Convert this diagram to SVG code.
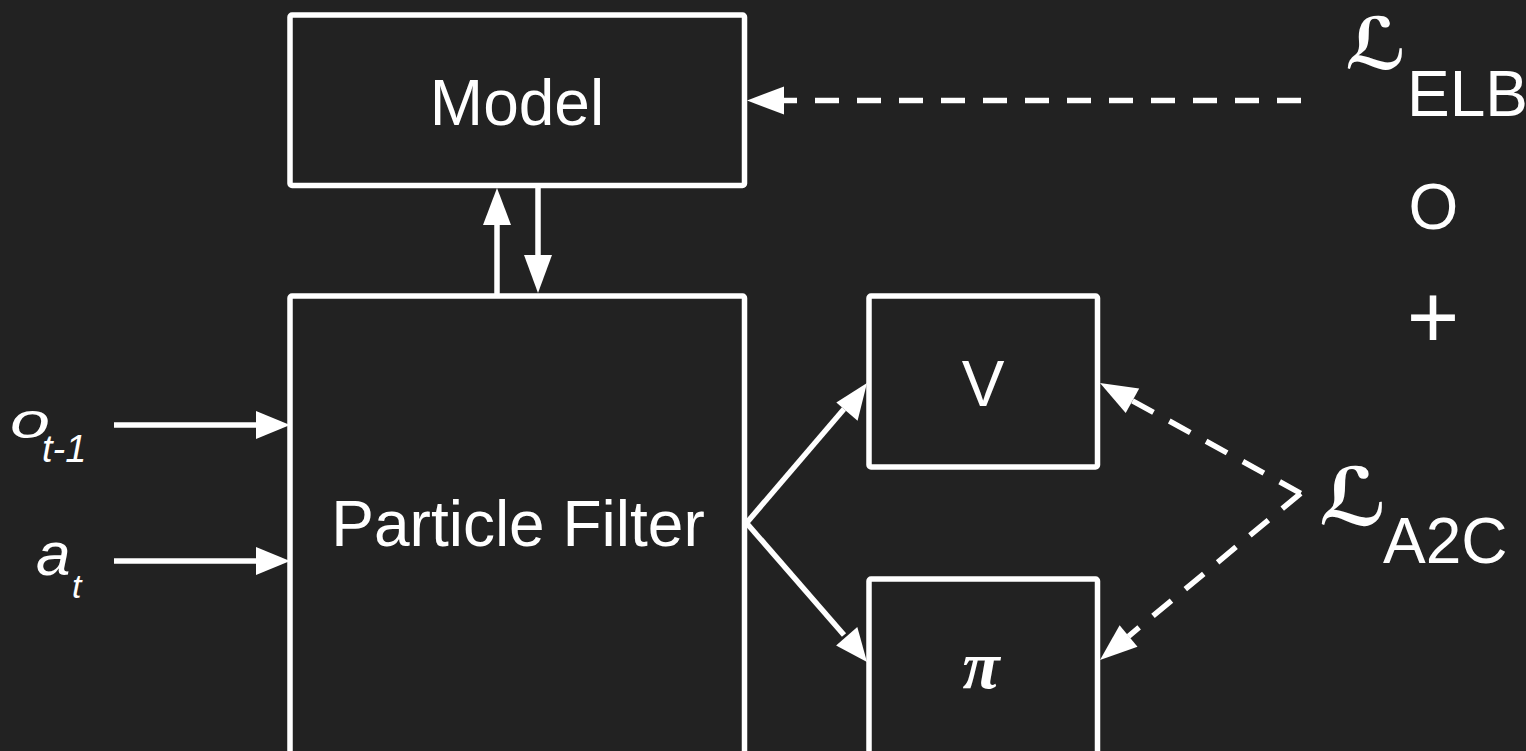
<svg xmlns="http://www.w3.org/2000/svg" width="1526" height="751" viewBox="0 0 1526 751">
<style>
.box{fill:#222222;stroke:#ffffff;stroke-width:5.5;stroke-linejoin:round}
.ln{stroke:#ffffff;stroke-width:5.5;fill:none}
.dash{stroke:#ffffff;stroke-width:5.5;fill:none;stroke-dasharray:24 18}
.head{fill:#ffffff}
.lbl{font-family:"Liberation Sans",Arial,sans-serif;fill:#ffffff}
.scr{font-family:"DejaVu Sans",sans-serif;fill:#ffffff;font-weight:bold}
</style>
<rect width="1526" height="751" fill="#222222"/>
<g id="model"><rect class="box" x="290" y="15" width="454.5" height="170.5" rx="2"/><text class="lbl" x="517" y="125" font-size="64" text-anchor="middle">Model</text></g>
<g id="particle-filter"><rect class="box" x="290" y="296" width="454.5" height="500" rx="2"/><text class="lbl" x="518" y="546" font-size="64" text-anchor="middle">Particle Filter</text></g>
<g id="value"><rect class="box" x="869" y="296" width="228.5" height="171" rx="2"/><text class="lbl" x="983" y="406" font-size="64" text-anchor="middle">V</text></g>
<g id="policy"><rect class="box" x="869" y="579" width="228.5" height="220" rx="2"/><text x="981" y="688" font-size="68" text-anchor="middle" font-family="'Liberation Serif','Times New Roman',serif" font-weight="bold" font-style="italic" fill="#ffffff">π</text></g>
<g id="obs-label"><text class="lbl" x="10" y="438" font-size="50" font-style="italic" textLength="40" lengthAdjust="spacingAndGlyphs">o</text><text class="lbl" x="42" y="462" font-size="38" font-style="italic">t-1</text></g>
<g id="act-label"><text class="lbl" x="36" y="575" font-size="62" font-style="italic">a</text><text class="lbl" x="72" y="598" font-size="34" font-style="italic">t</text></g>
<g id="loss-elbo"><text class="scr" x="1345" y="69" font-size="72">ℒ</text><text class="lbl" x="1407" y="116" font-size="64">ELB</text></g>
<g id="o-text"><text class="lbl" x="1433.5" y="229" font-size="64" text-anchor="middle">O</text></g>
<g id="plus-text"><text class="lbl" x="1433" y="348" font-size="90" text-anchor="middle">+</text></g>
<g id="loss-a2c"><text class="scr" x="1319" y="525" font-size="80">ℒ</text><text class="lbl" x="1383" y="563" font-size="64">A2C</text></g>
<g id="connectors">
<line class="ln" x1="114" y1="425" x2="258" y2="425"/><polygon class="head" points="290,425 256,411 256,439"/>
<line class="ln" x1="114" y1="561" x2="258" y2="561"/><polygon class="head" points="290,561 256,547 256,575"/>
<line class="ln" x1="497" y1="296" x2="497" y2="222"/><polygon class="head" points="497,188 483,225 511,225"/>
<line class="ln" x1="538" y1="188" x2="538" y2="258"/><polygon class="head" points="538,293 524,255 552,255"/>
<line class="dash" x1="1301" y1="100.5" x2="784" y2="100.5"/><polygon class="head" points="747,100.5 784,86.5 784,114.5"/>
<line class="ln" x1="746.5" y1="523" x2="844" y2="409"/><polygon class="head" points="867,383 836.3,402.5 857.6,420.7"/>
<line class="ln" x1="746.5" y1="523" x2="844" y2="635"/><polygon class="head" points="867,662 857.3,627 836.1,645.4"/>
<path class="dash" d="M1300.7,493.3 L1132.5,400.8"/><polygon class="head" points="1100,383 1125.7,413 1139.2,388.5"/>
<path class="dash" d="M1300.7,493.3 L1128.5,636.3"/><polygon class="head" points="1100,660 1137.5,646.8 1119.6,625.3"/>
</g>
</svg>
